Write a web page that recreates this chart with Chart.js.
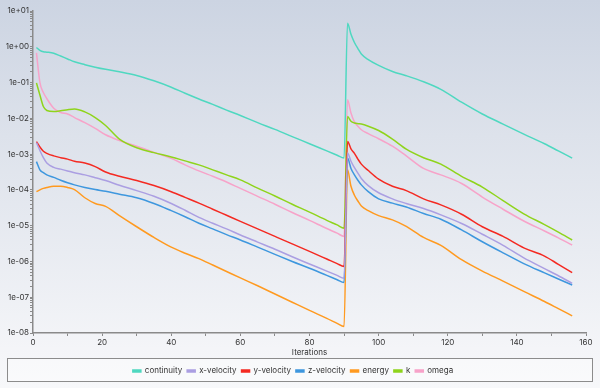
<!DOCTYPE html>
<html>
<head>
<meta charset="utf-8">
<script src="https://cdn.jsdelivr.net/npm/chart.js@4/dist/chart.umd.min.js"></script>
<style>
  html, body { margin: 0; padding: 0; }
  body {
    width: 600px; height: 388px; overflow: hidden;
    background: linear-gradient(to bottom, #ccd4e2 0%, #dde2eb 35%, #e9ecf2 65%, #f4f5f8 90%, #f7f8fa 100%);
  }
  #wrap { position: relative; width: 600px; height: 388px; }
</style>
</head>
<body>
<div id="wrap"><canvas id="c" width="600" height="388"></canvas></div>
<script>
const iterations = [1,2,3,4,6,8,10,12,15,18, 21,25,30,35,40,44,48,52,56,60,
  65,70,75,80,85,88,90,91,92,93, 94,95,97,100,104,108,113,118,124,130,
  136,142,148,152,156];

const continuity = [0.955,0.794,0.724,0.708,0.661,0.550,0.457,0.380,0.316,0.269,
  0.234,0.200,0.158,0.112,0.0741,0.0501,0.0347,0.0245,0.0170,0.0120,
  7.59e-3,4.90e-3,3.09e-3,1.95e-3,1.23e-3,9.33e-4,7.76e-4,4.57,2.24,1.32,
  0.891,0.631,0.437,0.302,0.204,0.155,0.105,0.0646,0.0282,0.0132,
  6.92e-3,3.63e-3,1.95e-3,1.23e-3,7.76e-4];

const xVelocity = [2.09e-3,1.26e-3,7.94e-4,5.62e-4,4.27e-4,3.80e-4,3.39e-4,3.02e-4,2.63e-4,2.19e-4,
  1.82e-4,1.35e-4,9.55e-5,6.61e-5,4.17e-5,2.69e-5,1.70e-5,1.17e-5,8.13e-6,5.50e-6,
  3.47e-6,2.19e-6,1.35e-6,8.51e-7,5.37e-7,4.07e-7,3.39e-7,1.07e-3,6.31e-4,4.17e-4,
  2.95e-4,2.09e-4,1.32e-4,8.32e-5,5.62e-5,4.17e-5,3.02e-5,2.00e-5,1.15e-5,5.75e-6,
  2.82e-6,1.26e-6,6.31e-7,3.98e-7,2.45e-7];

const yVelocity = [2.24e-3,1.58e-3,1.20e-3,1.05e-3,8.91e-4,7.94e-4,7.24e-4,6.31e-4,5.62e-4,4.47e-4,
  3.16e-4,2.40e-4,1.82e-4,1.32e-4,8.91e-5,6.17e-5,4.27e-5,2.88e-5,1.95e-5,1.32e-5,
  8.13e-6,5.01e-6,3.09e-6,1.91e-6,1.17e-6,8.71e-7,7.24e-7,2.24e-3,1.41e-3,1.05e-3,
  7.24e-4,5.25e-4,3.47e-4,2.00e-4,1.26e-4,9.55e-5,5.62e-5,3.80e-5,2.09e-5,9.33e-6,
  5.01e-6,2.40e-6,1.41e-6,8.32e-7,4.90e-7];

const zVelocity = [6.17e-4,3.63e-4,3.02e-4,2.63e-4,2.24e-4,1.86e-4,1.58e-4,1.38e-4,1.17e-4,1.02e-4,
  9.12e-5,7.59e-5,6.03e-5,4.17e-5,2.63e-5,1.78e-5,1.17e-5,8.13e-6,5.62e-6,3.98e-6,
  2.51e-6,1.58e-6,1.00e-6,6.46e-7,4.07e-7,3.09e-7,2.57e-7,7.76e-4,3.98e-4,2.63e-4,
  1.86e-4,1.38e-4,8.91e-5,5.62e-5,4.27e-5,3.31e-5,2.19e-5,1.51e-5,7.59e-6,3.55e-6,
  1.74e-6,8.71e-7,4.79e-7,3.24e-7,2.19e-7];

const energy = [8.91e-5,1.00e-4,1.10e-4,1.17e-4,1.26e-4,1.26e-4,1.17e-4,1.02e-4,6.03e-5,4.17e-5,
  3.47e-5,1.91e-5,9.33e-6,4.68e-6,2.51e-6,1.70e-6,1.20e-6,7.94e-7,5.25e-7,3.47e-7,
  2.09e-7,1.23e-7,7.24e-8,4.27e-8,2.57e-8,1.86e-8,1.51e-8,3.63e-4,1.26e-4,7.08e-5,
  4.90e-5,3.55e-5,2.63e-5,1.91e-5,1.45e-5,9.55e-6,4.68e-6,2.82e-6,1.12e-6,5.37e-7,
  2.82e-7,1.45e-7,7.59e-8,4.79e-8,3.02e-8];

const k = [0.0977,0.0447,0.0214,0.0166,0.0155,0.0162,0.0174,0.0182,0.0151,0.0105,
  6.31e-3,2.63e-3,1.51e-3,1.10e-3,8.32e-4,6.46e-4,5.01e-4,3.63e-4,2.63e-4,1.91e-4,
  1.12e-4,6.76e-5,3.98e-5,2.40e-5,1.41e-5,1.05e-5,8.51e-6,0.0112,8.32e-3,7.41e-3,
  7.08e-3,6.92e-3,6.03e-3,4.57e-3,2.63e-3,1.38e-3,7.94e-4,5.25e-4,2.40e-4,1.20e-4,
  5.01e-5,2.14e-5,1.07e-5,6.61e-6,3.98e-6];

const omega = [0.676,0.1,0.0525,0.0355,0.0191,0.0145,0.0132,0.0105,7.59e-3,5.25e-3,
  3.47e-3,2.40e-3,1.66e-3,1.12e-3,7.59e-4,5.01e-4,3.39e-4,2.40e-4,1.66e-4,1.10e-4,
  6.61e-5,3.98e-5,2.34e-5,1.41e-5,8.32e-6,6.17e-6,5.01e-6,0.0331,0.0141,7.94e-3,
  6.03e-3,4.79e-3,3.72e-3,2.69e-3,1.66e-3,8.91e-4,3.98e-4,2.63e-4,1.51e-4,6.31e-5,
  2.88e-5,1.35e-5,7.08e-6,4.57e-6,2.88e-6];

const seriesNames = ['continuity','x-velocity','y-velocity','z-velocity','energy','k','omega'];
const seriesValues = [continuity, xVelocity, yVelocity, zVelocity, energy, k, omega];
const seriesColors = ['#4fd8c0','#ab9fe2','#f42a22','#3e97de','#ff9a20','#8fd41c','#f7a3c9'];

const xTickValues = [0,20,40,60,80,100,120,140,160];
const yDecades = [-8,-7,-6,-5,-4,-3,-2,-1,0,1];

const FONT = "Inter, 'Open Sans', sans-serif";

const datasets = seriesNames.map((name, s) => ({
  label: name,
  data: iterations.map((it, i) => ({ x: it, y: seriesValues[s][i] })),
  borderColor: seriesColors[s],
  backgroundColor: seriesColors[s],
  borderWidth: 1.5,
  pointRadius: 0,
  pointHoverRadius: 0,
  fill: false,
  cubicInterpolationMode: 'monotone'
}));

function fmtExp(v) {
  const e = Math.log10(v);
  const n = Math.round(e);
  if (Math.abs(e - n) > 1e-6) return '';
  return '1e' + (n >= 0 ? '+' : '-') + String(Math.abs(n)).padStart(2, '0');
}

const legendBox = {
  id: 'legendBox',
  afterInit(chart) {
    const lg = chart.legend;
    if (lg) {
      const orig = lg.fit.bind(lg);
      lg.fit = function () { orig(); this.height = 26; };
    }
  },
  beforeDraw(chart) {
    const ctx = chart.ctx;
    ctx.save();
    ctx.fillStyle = 'rgba(255,255,255,0.35)';
    ctx.fillRect(7, 358, 586, 24);
    ctx.strokeStyle = '#8c8c8c';
    ctx.lineWidth = 1;
    ctx.strokeRect(7.5, 358.5, 585, 23);
    ctx.restore();
  }
};

new Chart(document.getElementById('c'), {
  type: 'line',
  data: { datasets },
  plugins: [legendBox],
  options: {
    responsive: false,
    animation: false,
    events: [],
    layout: { padding: { left: 0, right: 14, top: 11, bottom: 0 } },
    plugins: {
      tooltip: { enabled: false },
      legend: {
        position: 'bottom',
        labels: {
          boxWidth: 8,
          boxHeight: 2,
          padding: 5,
          color: '#333',
          font: { family: FONT, size: 8 }
        }
      }
    },
    scales: {
      x: {
        type: 'linear',
        min: 0, max: 160,
        afterFit(scale) { scale.height = 29; },
        afterBuildTicks(scale) {
          const t = [];
          for (let v = 0; v <= 160; v += 10) t.push({ value: v });
          scale.ticks = t;
        },
        ticks: {
          autoSkip: false, maxRotation: 0, padding: 2,
          color: '#333', font: { family: FONT, size: 8 },
          callback: (v) => xTickValues.includes(v) ? String(v) : ''
        },
        grid: { drawOnChartArea: false, drawTicks: true, tickLength: 3, color: '#8a8a8a' },
        border: { color: '#8a8a8a', width: 1.5 },
        title: { display: true, text: 'Iterations', color: '#333', font: { family: FONT, size: 8 }, padding: { top: 1, bottom: 5 } }
      },
      y: {
        type: 'logarithmic',
        min: 1e-8, max: 10,
        afterFit(scale) { scale.width = 33; },
        afterBuildTicks(scale) {
          const t = [];
          yDecades.forEach(d => {
            t.push({ value: Math.pow(10, d), major: true });
            if (d < 1) for (let m = 2; m <= 9; m++) t.push({ value: m * Math.pow(10, d) });
          });
          scale.ticks = t;
        },
        ticks: {
          autoSkip: false, padding: 1,
          color: '#333', font: { family: FONT, size: 8 },
          callback: (v) => fmtExp(v)
        },
        grid: { drawOnChartArea: false, drawTicks: true, tickLength: 3, color: '#8a8a8a' },
        border: { color: '#8a8a8a', width: 1.5 }
      }
    }
  }
});
</script>
</body>
</html>
